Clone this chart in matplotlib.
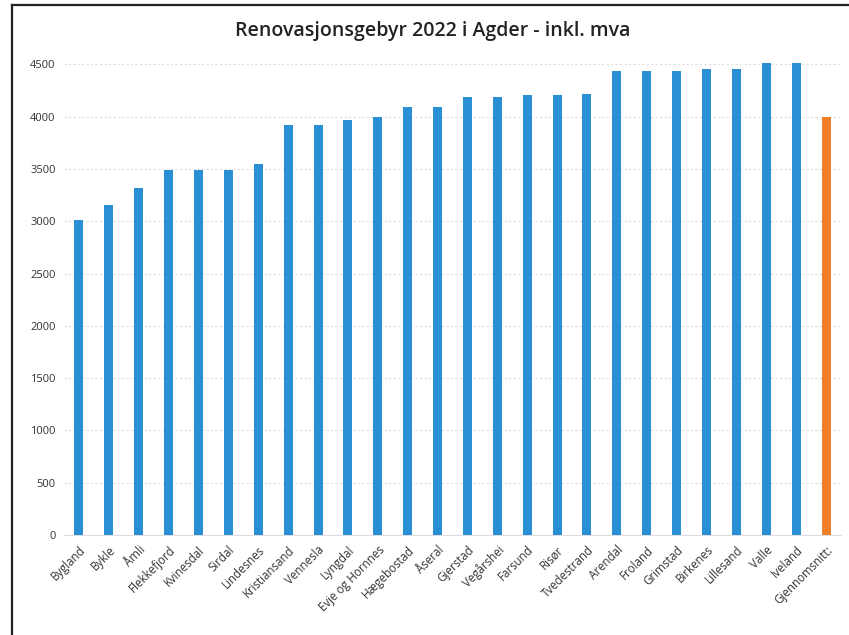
import matplotlib.pyplot as plt
from matplotlib.lines import Line2D

kommuner = ['Bygland', 'Bykle', 'Åmli', 'Flekkefjord', 'Kvinesdal', 'Sirdal', 'Lindesnes',
            'Kristiansand', 'Vennesla', 'Lyngdal', 'Evje og Hornnes', 'Hægebostad', 'Åseral',
            'Gjerstad', 'Vegårshei', 'Farsund', 'Risør', 'Tvedestrand', 'Arendal', 'Froland',
            'Grimstad', 'Birkenes', 'Lillesand', 'Valle', 'Iveland', 'Gjennomsnitt:']
gebyr = [3010, 3160, 3320, 3490, 3490, 3490, 3550, 3920, 3920, 3965, 4000, 4090, 4090,
         4185, 4185, 4210, 4210, 4220, 4440, 4440, 4440, 4460, 4460, 4515, 4515, 4000]
yticks = [0, 500, 1000, 1500, 2000, 2500, 3000, 3500, 4000, 4500]

blue = '#2b8fd6'
orange = '#f07f2a'
colors = [blue] * (len(kommuner) - 1) + [orange]

plt.rcParams['font.family'] = ['Open Sans', 'DejaVu Sans']

fig = plt.figure(figsize=(8.49, 6.35), dpi=100)
ax = fig.add_axes([64 / 849, 100 / 635, 777 / 849, 481 / 635])

x = list(range(len(kommuner)))
ax.bar(x, gebyr, width=0.3, color=colors, zorder=3)

ax.set_xlim(-0.5, len(kommuner) - 0.5)
ax.set_ylim(0, 4600)
ax.set_yticks(yticks)
ax.set_yticklabels([str(v) for v in yticks], fontsize=8, color='#333333')
ax.set_xticks(x)
ax.set_xticklabels(kommuner, rotation=45, ha='right', rotation_mode='anchor',
                   fontsize=8.3, color='#333333')
ax.tick_params(length=0, pad=6)
ax.grid(axis='y', color='#dddddd', linewidth=0.8, linestyle=(0, (2, 2)), zorder=0)
for s in ['top', 'right', 'left']:
    ax.spines[s].set_visible(False)
ax.spines['bottom'].set_color('#dddddd')

fig.text(433 / 849, 1 - 31 / 635, 'Renovasjonsgebyr 2022 i Agder - inkl. mva',
         ha='center', va='center', fontsize=14, fontweight='semibold', color='#222222')

# edges of the chart frame seen on the scanned page (top and left only)
fig.add_artist(Line2D([12 / 849, 1], [1 - 5 / 635, 1 - 5 / 635],
                      transform=fig.transFigure, color='#222222', linewidth=1.6))
fig.add_artist(Line2D([12 / 849, 12 / 849], [0, 1 - 5 / 635],
                      transform=fig.transFigure, color='#222222', linewidth=1.6))

fig.savefig('out.png', dpi=100)
